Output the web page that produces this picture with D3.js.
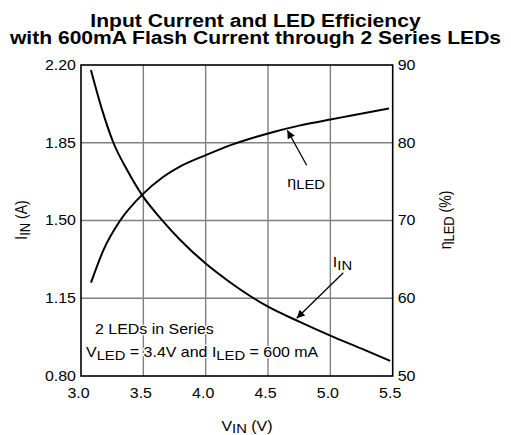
<!DOCTYPE html>
<html>
<head>
<meta charset="utf-8">
<script src="https://cdn.jsdelivr.net/npm/d3@7"></script>
<style>
  body { margin: 0; background: #fff; }
  text { font-family: "Liberation Sans", Arial, sans-serif; fill: #000; }
</style>
</head>
<body>
<div class="item"></div>
<script>
var width = 511;
var height = 435;
var SX = 1.14;   // the reference text is drawn a bit wide

// data
var vinI = [3.08, 3.17, 3.26, 3.37, 3.49, 3.65, 3.8, 4.0, 4.2, 4.5, 4.75, 5.0, 5.25, 5.48];
var iin  = [2.177, 1.997, 1.85, 1.727, 1.614, 1.502, 1.41, 1.306, 1.22, 1.112, 1.045, 0.982, 0.923, 0.868];
var vinE = [3.08, 3.18, 3.31, 3.49, 3.65, 3.79, 4.0, 4.2, 4.5, 4.75, 5.0, 5.17, 5.47];
var eta  = [62.0, 66.2, 69.9, 73.3, 75.5, 76.9, 78.4, 79.7, 81.2, 82.2, 83.0, 83.5, 84.4];

var xTicks = [3.0, 3.5, 4.0, 4.5, 5.0, 5.5];
var iTicks = [0.80, 1.15, 1.50, 1.85, 2.20];
var eTicks = [50, 60, 70, 80, 90];

// plot box (window.top is reserved, so no "top" here)
var pLeft = 81, pRight = 392.7, pTop = 65, pBottom = 376;

var x = d3.scaleLinear().domain([3.0, 5.5]).range([pLeft, pRight]);
var yI = d3.scaleLinear().domain([0.8, 2.2]).range([pBottom, pTop]);
var yE = d3.scaleLinear().domain([50, 90]).range([pBottom, pTop]);

var svg = d3.select(".item")
    .append("svg")
    .attr("width", width)
    .attr("height", height);

// stretch a text horizontally around its x anchor
function wide(sel) {
    sel.each(function () {
        var t = d3.select(this);
        var ax = +t.attr("x") || 0;
        t.attr("transform", "translate(" + ax + ",0) scale(" + SX + ",1) translate(" + (-ax) + ",0)");
    });
}

// title
svg.append("text").attr("x", 255.5).attr("y", 27.5).attr("text-anchor", "middle")
    .style("font-size", "18.5px").style("font-weight", "bold")
    .text("Input Current and LED Efficiency").call(wide);
svg.append("text").attr("x", 255.5).attr("y", 44).attr("text-anchor", "middle")
    .style("font-size", "18.5px").style("font-weight", "bold")
    .text("with 600mA Flash Current through 2 Series LEDs").call(wide);

// grid
var grid = svg.append("g").attr("stroke", "#808080").attr("stroke-width", 1.4);
grid.selectAll(".gx").data(xTicks.slice(1, -1)).enter().append("line")
    .attr("x1", function (d) { return x(d); }).attr("x2", function (d) { return x(d); })
    .attr("y1", pTop).attr("y2", pBottom);
grid.selectAll(".gy").data(iTicks.slice(1, -1)).enter().append("line")
    .attr("y1", function (d) { return yI(d); }).attr("y2", function (d) { return yI(d); })
    .attr("x1", pLeft).attr("x2", pRight);

// note text (white halo hides the grid under the glyphs)
var note = svg.append("g").style("font-size", "14px");
note.append("text").attr("x", 95).attr("y", yI(0.99))
    .attr("stroke", "#fff").attr("stroke-width", 2.5).attr("paint-order", "stroke")
    .text("2 LEDs in Series").call(wide);
var n2 = note.append("text").attr("x", 86).attr("y", yI(0.885))
    .attr("stroke", "#fff").attr("stroke-width", 2.5).attr("paint-order", "stroke");
n2.append("tspan").text("V");
n2.append("tspan").attr("dy", 3).style("font-size", "13px").text("LED");
n2.append("tspan").attr("dy", -3).text(" = 3.4V and I");
n2.append("tspan").attr("dy", 3).style("font-size", "13px").text("LED");
n2.append("tspan").attr("dy", -3).text(" = 600 mA");
n2.call(wide);

// curves
var lineI = d3.line()
    .x(function (d, i) { return x(vinI[i]); })
    .y(function (d) { return yI(d); })
    .curve(d3.curveMonotoneX);
var lineE = d3.line()
    .x(function (d, i) { return x(vinE[i]); })
    .y(function (d) { return yE(d); })
    .curve(d3.curveMonotoneX);

svg.append("path").datum(iin).attr("d", lineI)
    .attr("fill", "none").attr("stroke", "#000").attr("stroke-width", 2);
svg.append("path").datum(eta).attr("d", lineE)
    .attr("fill", "none").attr("stroke", "#000").attr("stroke-width", 2);

// frame
svg.append("rect").attr("x", pLeft).attr("y", pTop)
    .attr("width", pRight - pLeft).attr("height", pBottom - pTop)
    .attr("fill", "none").attr("stroke", "#000").attr("stroke-width", 1.6);

// axes
var axL = svg.append("g").attr("transform", "translate(" + pLeft + ",0)")
    .call(d3.axisLeft(yI).tickValues(iTicks).tickSize(0).tickPadding(5).tickFormat(d3.format(".2f")));
var axR = svg.append("g").attr("transform", "translate(" + pRight + ",0)")
    .call(d3.axisRight(yE).tickValues(eTicks).tickSize(0).tickPadding(5).tickFormat(d3.format("d")));
var axB = svg.append("g").attr("transform", "translate(-3," + pBottom + ")")
    .call(d3.axisBottom(x).tickValues(xTicks).tickSize(0).tickPadding(12).tickFormat(d3.format(".1f")));
[axL, axR, axB].forEach(function (a) {
    a.select(".domain").remove();
    a.selectAll("text").style("font-size", "14px")
        .style("font-family", "'Liberation Sans', Arial, sans-serif").call(wide);
});

// axis titles
var tl = svg.append("text").attr("text-anchor", "middle").style("font-size", "14px")
    .attr("transform", "translate(27,220) scale(" + SX + ",1) rotate(-90)");
tl.append("tspan").text("I");
tl.append("tspan").attr("dy", 3).style("font-size", "13px").text("IN");
tl.append("tspan").attr("dy", -3).text(" (A)");

var tr = svg.append("text").attr("text-anchor", "middle").style("font-size", "14px")
    .attr("transform", "translate(451,220) scale(" + SX + ",1) rotate(-90)");
tr.append("tspan").text("η");
tr.append("tspan").attr("dy", 3).style("font-size", "13px").text("LED");
tr.append("tspan").attr("dy", -3).text(" (%)");

var tb = svg.append("text").attr("x", 247).attr("y", 431).attr("text-anchor", "middle")
    .style("font-size", "14px");
tb.append("tspan").text("V");
tb.append("tspan").attr("dy", 2).style("font-size", "13px").text("IN");
tb.append("tspan").attr("dy", -2).text(" (V)");
tb.call(wide);

// annotations
svg.append("defs").append("marker")
    .attr("id", "arr").attr("viewBox", "0 0 10 10")
    .attr("refX", 10).attr("refY", 5)
    .attr("markerWidth", 10).attr("markerHeight", 8)
    .attr("markerUnits", "userSpaceOnUse")
    .attr("orient", "auto")
    .append("path").attr("d", "M0,0L10,5L0,10Z").attr("fill", "#000");

svg.append("line")
    .attr("x1", x(4.81)).attr("y1", yE(77.1))
    .attr("x2", x(4.655)).attr("y2", yE(81.6))
    .attr("stroke", "#000").attr("stroke-width", 1.3).attr("marker-end", "url(#arr)");
svg.append("line")
    .attr("x1", x(5.104)).attr("y1", yI(1.265))
    .attr("x2", x(4.73)).attr("y2", yI(1.06))
    .attr("stroke", "#000").attr("stroke-width", 1.3).attr("marker-end", "url(#arr)");

var le = svg.append("text").attr("x", x(4.655)).attr("y", yE(74.3)).style("font-size", "14px");
le.append("tspan").text("η");
le.append("tspan").attr("dy", 2).style("font-size", "13px").text("LED");
le.call(wide);

var li = svg.append("text").attr("x", x(5.02)).attr("y", yI(1.29)).style("font-size", "14px");
li.append("tspan").text("I");
li.append("tspan").attr("dy", 3).style("font-size", "13px").text("IN");
li.call(wide);
</script>
</body>
</html>
